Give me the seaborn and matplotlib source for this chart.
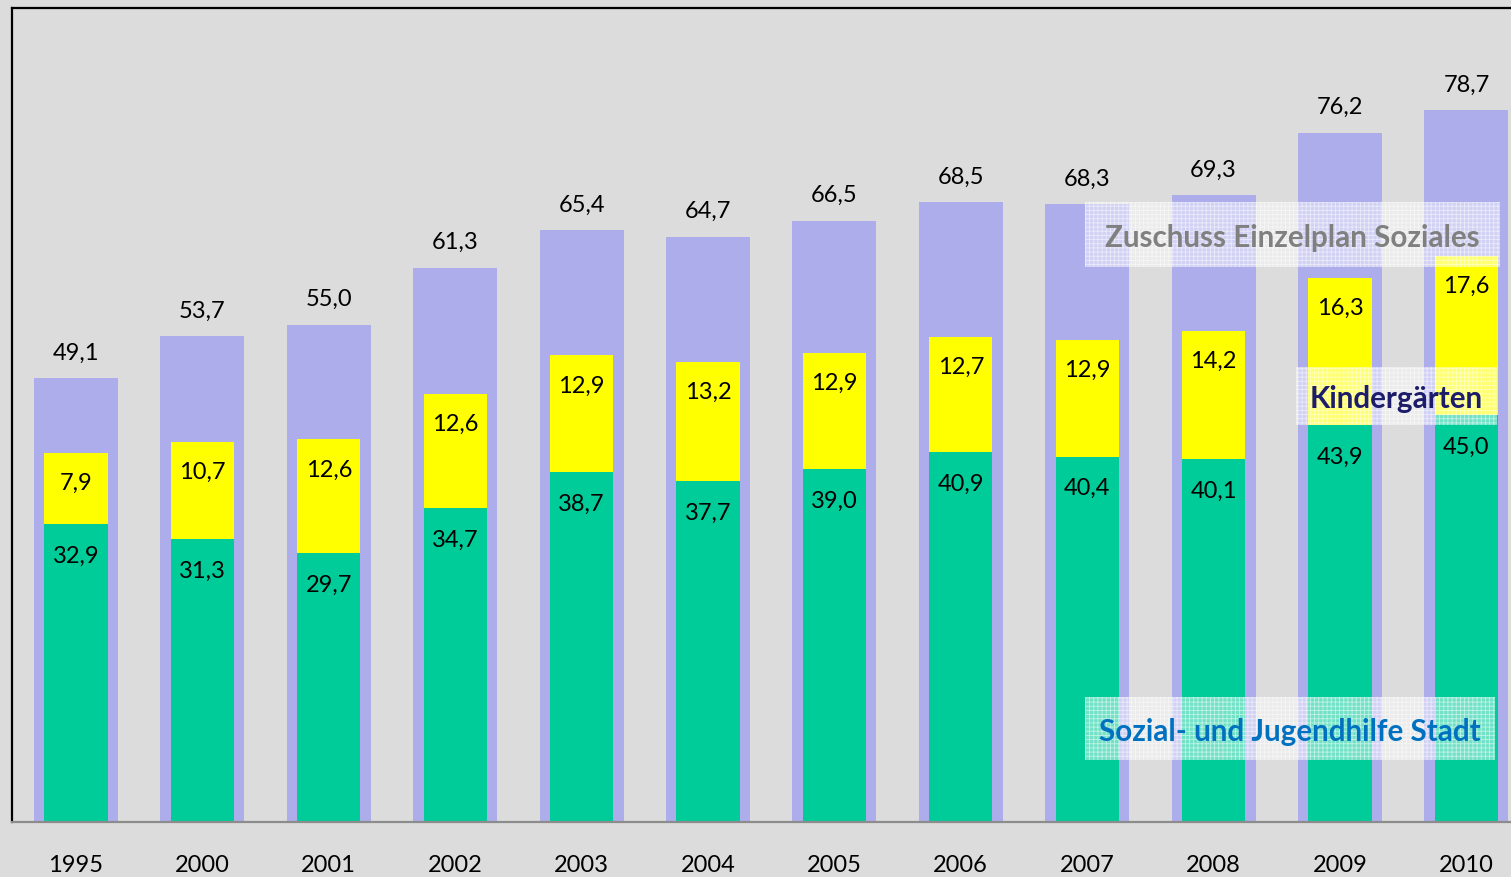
import matplotlib
matplotlib.use("Agg")
import matplotlib.pyplot as plt
from matplotlib.patches import Rectangle
import seaborn as sns
import pandas as pd

years = ["1995", "2000", "2001", "2002", "2003", "2004", "2005", "2006", "2007", "2008", "2009", "2010"]
total = [49.1, 53.7, 55.0, 61.3, 65.4, 64.7, 66.5, 68.5, 68.3, 69.3, 76.2, 78.7]
kinder = [7.9, 10.7, 12.6, 12.6, 12.9, 13.2, 12.9, 12.7, 12.9, 14.2, 16.3, 17.6]
sozial = [32.9, 31.3, 29.7, 34.7, 38.7, 37.7, 39.0, 40.9, 40.4, 40.1, 43.9, 45.0]

BG = "#DCDCDC"
LAV = "#ADADEB"
GREEN = "#00CC99"
YELLOW = "#FFFF00"

sns.set_style("white", {"axes.facecolor": BG, "figure.facecolor": BG})
plt.rcParams["font.family"] = ["Lato", "DejaVu Sans"]
plt.rcParams["hatch.linewidth"] = 0.6

df = pd.DataFrame({"year": years, "total": total, "kinder": kinder, "sozial": sozial})
df["stack"] = df["sozial"] + df["kinder"]

fig = plt.figure(figsize=(15.11, 8.77), dpi=100)
ax = fig.add_axes([12 / 1511, 1 - 822 / 877, 1 - 12 / 1511, (822 - 8) / 877])

sns.barplot(data=df, x="year", y="total", color=LAV, width=0.665, saturation=1, ax=ax, linewidth=0)
sns.barplot(data=df, x="year", y="stack", color=YELLOW, width=0.5, saturation=1, ax=ax, linewidth=0)
sns.barplot(data=df, x="year", y="sozial", color=GREEN, width=0.5, saturation=1, ax=ax, linewidth=0)

def fmt(v):
    return f"{v:.1f}".replace(".", ",")

for i in range(len(years)):
    ax.annotate(fmt(total[i]), xy=(i, total[i]), xytext=(0, 18), textcoords="offset points",
                ha="center", va="center", fontsize=17, color="black")
    ax.annotate(fmt(kinder[i]), xy=(i, sozial[i] + kinder[i]), xytext=(0, -22), textcoords="offset points",
                ha="center", va="center", fontsize=17, color="black")
    ax.annotate(fmt(sozial[i]), xy=(i, sozial[i]), xytext=(0, -23), textcoords="offset points",
                ha="center", va="center", fontsize=17, color="black")

ax.set_ylim(0, 90)
ax.set_xlim(-0.506, (1511 - 76) / 126.4)
ax.set_xlabel("")
ax.set_ylabel("")
ax.set_yticks([])
ax.tick_params(axis="x", length=0, pad=24, labelsize=17, labelcolor="black")

for s in ["left", "top"]:
    ax.spines[s].set_visible(True)
    ax.spines[s].set_color("black")
    ax.spines[s].set_linewidth(1.6)
ax.spines["right"].set_visible(False)
ax.spines["bottom"].set_color("#8C8C8C")
ax.spines["bottom"].set_linewidth(1.6)

W, H = 1511, 877

def legend_box(txt, x0, y0, x1, y1, color):
    rect = Rectangle((x0 / W, 1 - y1 / H), (x1 - x0) / W, (y1 - y0) / H, transform=fig.transFigure,
                     facecolor=(1, 1, 1, 0.45), edgecolor=(1, 1, 1, 0.55), hatch="++++", linewidth=0,
                     zorder=5)
    fig.add_artist(rect)
    fig.text((x0 + x1) / 2 / W, 1 - ((y0 + y1) / 2 + 3) / H, txt, ha="center", va="center", fontsize=21.3,
             fontweight="bold", color=color, zorder=6)

legend_box("Zuschuss Einzelplan Soziales", 1085, 202, 1500, 267, "#808080")
legend_box("Kindergärten", 1296, 367, 1497, 425, "#1C1C6B")
legend_box("Sozial- und Jugendhilfe Stadt", 1085, 697, 1495, 760, "#0070C0")

fig.savefig("out.png", dpi=100, facecolor=BG)
